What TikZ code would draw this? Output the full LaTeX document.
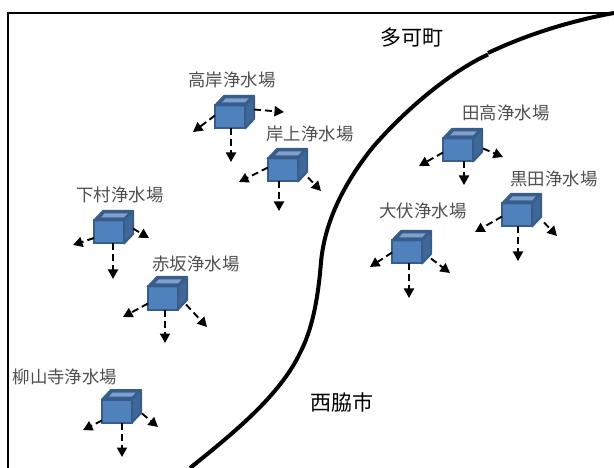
\documentclass[tikz,border=0pt]{standalone}
\usepackage{fontspec}
\newfontfamily\cjk{Noto Sans CJK JP}
\usetikzlibrary{arrows.meta,calc}
\definecolor{cubefill}{HTML}{4F81BD}
\definecolor{cubeedge}{HTML}{385D8A}
\definecolor{cubetop}{HTML}{7F9FCF}
\definecolor{cubeside}{HTML}{3F6797}
\definecolor{labelgray}{HTML}{505050}
\tikzset{
  x=1pt,y=-1pt,
  cubeface/.style={draw=cubeedge,line width=2pt,fill=cubefill,minimum width=30pt,minimum height=23pt,inner sep=0pt,outer sep=0pt},
  cubepart/.style={draw=cubeedge,line width=2pt,line join=round},
  flow/.style={line width=1.9pt,draw=black,dash pattern=on 7pt off 4pt,-{Triangle[length=9.5pt,width=10pt]}},
  plantlabel/.style={font=\cjk\fontsize{17.4}{19}\selectfont,text=labelgray,inner sep=0pt},
  townlabel/.style={font=\cjk\fontsize{21}{24}\selectfont,text=black,inner sep=0pt},
  border/.style={line width=1.8pt,draw=black},
  boundary/.style={line width=4pt,draw=black},
}
% #1 name, #2 x, #3 y : top-left of overall cube outline
\newcommand{\plantcube}[3]{%
  \node[cubeface,anchor=north west] (#1) at (#2+1,#3+10.5) {};
  \fill[cubeedge,cubepart] (#1.north west) -- ++(9,-9.5) -- ++(30,0) -- ++(-9,9.5) -- cycle;
  \fill[cubetop] ($(#1.north west)+(7,-3)$) -- ++(3.5,-4) -- ++(23,0) -- ++(-3.5,4) -- cycle;
  \fill[cubeside,cubepart] (#1.north east) -- ++(9,-9.5) -- ++(0,23) -- ++(-9,9.5) -- cycle;
}
\begin{document}
\begin{tikzpicture}
\useasboundingbox (0,0) rectangle (614,468);
\fill[white] (0,0) rectangle (614,468);
\coordinate (frameA) at (8,468);
\coordinate (frameB) at (8,13);
\coordinate (frameC) at (614,13);
\draw[border] (frameA) -- (frameB) -- (frameC);
\draw[boundary] (614,13) .. controls (575,20) and (530,33) .. (488,53);
\draw[boundary] (488,54.5)
  .. controls (450,72) and (405,110) .. (373,147)
  .. controls (345,182) and (325,220) .. (321,262)
  .. controls (318,300) and (312,330) .. (300,353)
  .. controls (280,395) and (235,432) .. (190,468);
\plantcube{takagishi}{214}{95}
\plantcube{kishigami}{267}{148}
\plantcube{shimomura}{93}{210}
\plantcube{akasaka}{147}{276}
\plantcube{yanagi}{101}{389}
\plantcube{tadaka}{442}{128}
\plantcube{kuroda}{501}{193}
\plantcube{obuse}{391}{230}
\node[plantlabel] (l1) at (232,80) {高岸浄水場};
\node[plantlabel] (l2) at (310,134) {岸上浄水場};
\node[plantlabel] (l3) at (120,195) {下村浄水場};
\node[plantlabel] (l4) at (196,264) {赤坂浄水場};
\node[plantlabel] (l5) at (65,377) {柳山寺浄水場};
\node[plantlabel] (l6) at (506,113) {田高浄水場};
\node[plantlabel] (l7) at (554,179) {黒田浄水場};
\node[plantlabel] (l8) at (423,211) {大伏浄水場};
\node[townlabel] (t1) at (412,38) {多可町};
\node[townlabel] (t2) at (342,402) {西脇市};
\foreach \n/\ly/\rx/\ry/\ax/\ay/\dx/\by/\cx/\cy in {
 takagishi/-1.5/9/-7.5/193/132/231/162/284/112,
 kishigami/-2.5/10/7.5/239/182/279/211/321/191,
 shimomura/6/9/-3.5/73/245/113/279/149/238,
 akasaka/5.5/8/6.5/123/317/165/343/207/327,
 yanagi/9.5/10/2.5/83/430/122/457/158/427,
 tadaka/2.5/10/-1.5/419/166/464/185/503/157,
 kuroda/1.5/12/7.5/475/232/518/261/557/236,
 obuse/0.5/9/6.5/370/267/409/298/450/273}{
  \coordinate (\n-l) at (\ax,\ay);
  \coordinate (\n-d) at (\dx,\by);
  \coordinate (\n-r) at (\cx,\cy);
  \draw[flow] ($(\n.west)+(0,\ly)$) -- (\n-l);
  \draw[flow] (\n-d |- \n.south) -- (\n-d);
  \draw[flow] ($(\n.east)+(\rx,\ry)$) -- (\n-r);
}
\end{tikzpicture}
\end{document}
